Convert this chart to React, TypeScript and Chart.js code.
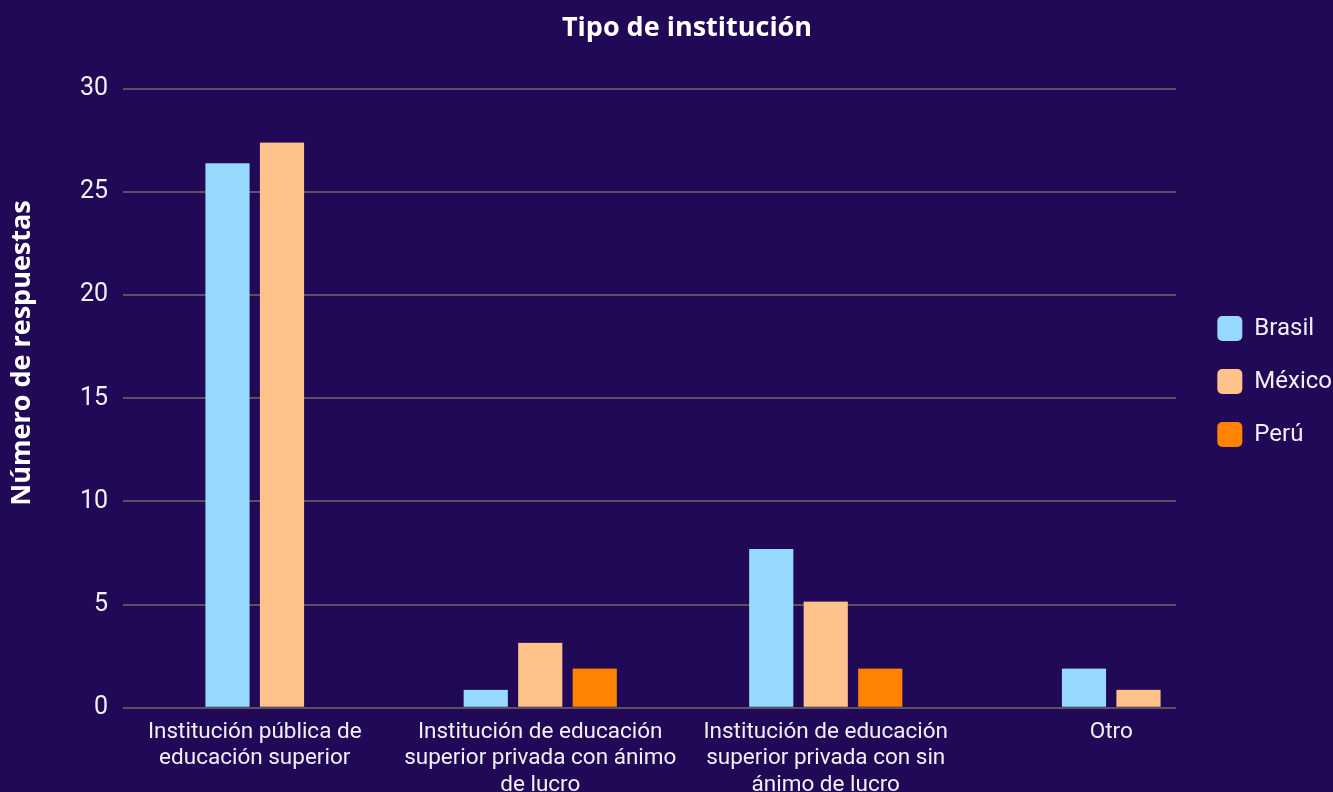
import { useEffect, useRef } from "react";
import { Chart, registerables } from "chart.js";

Chart.register(...registerables);

const chartTitle = "Tipo de institución";
const yAxisTitle = "Número de respuestas";
const categories: (string | string[])[] = [
  ["Institución pública de", "educación superior"],
  ["Institución de educación", "superior privada con ánimo", "de lucro"],
  ["Institución de educación", "superior privada con sin", "ánimo de lucro"],
  "Otro",
];
const seriesNames = ["Brasil", "México", "Perú"];
const brasil = [26.4, 0.87, 7.7, 1.9];
const mexico = [27.4, 3.15, 5.15, 0.87];
const peru = [null, 1.9, 1.9, null];
const seriesColors = ["#98dafe", "#ffc28a", "#ff8300"];
const yMin = 0;
const yMax = 30;
const yStep = 5;

const BG = "#220957";
const TEXT = "#f2f0f7";
const GRID = "#57545f";

const layoutTweak = {
  id: "layoutTweak",
  afterLayout(chart: any) {
    const area = chart.chartArea;
    area.right = 1176;
    area.width = area.right - area.left;
    const x = chart.scales.x;
    x.left = 112;
    x.right = 1254;
    x.width = x.right - x.left;
    x.configure();
    const lg = chart.legend;
    if (lg) {
      lg.top -= 68;
      lg.bottom -= 68;
      lg.left += 9;
      lg.right += 9;
    }
  },
};

const textPlugin = {
  id: "textPlugin",
  afterDraw(chart: any) {
    const ctx = chart.ctx;
    ctx.save();
    ctx.fillStyle = "#ffffff";
    ctx.textAlign = "center";
    ctx.textBaseline = "middle";
    ctx.font = "bold 27px 'Open Sans'";
    ctx.fillText(chartTitle, 687, 28);
    ctx.translate(22, 353);
    ctx.rotate(-Math.PI / 2);
    ctx.font = "bold 27px 'Open Sans'";
    ctx.fillText(yAxisTitle, 0, 0);
    ctx.restore();
  },
};

export default function App() {
  const ref = useRef<HTMLCanvasElement | null>(null);

  useEffect(() => {
    document.body.style.margin = "0";
    document.body.style.overflow = "hidden";
    document.body.style.background = BG;
    if (!ref.current) return;
    const seriesData = [brasil, mexico, peru];
    const chart = new Chart(ref.current, {
      type: "bar",
      data: {
        labels: categories,
        datasets: seriesNames.map((name, i) => ({
          label: name,
          data: seriesData[i],
          backgroundColor: seriesColors[i],
          borderColor: "rgba(0,0,0,0)",
          borderWidth: { top: 0, bottom: 0, left: 5.5, right: 5.5 },
          borderSkipped: false,
          barThickness: 54.5,
          skipNull: true,
        })),
      },
      options: {
        responsive: false,
        animation: false,
        devicePixelRatio: 1,
        layout: { padding: { top: 89, left: 0, right: 0, bottom: 3 } },
        plugins: {
          title: { display: false },
          tooltip: { enabled: false },
          legend: {
            position: "right",
            align: "center",
            labels: {
              color: TEXT,
              font: { family: "Roboto", size: 24 },
              boxWidth: 25,
              boxHeight: 25,
              padding: 28,
              useBorderRadius: true,
              borderRadius: 5,
            },
          },
        },
        scales: {
          x: {
            grid: { display: false, drawTicks: false },
            border: { display: false },
            ticks: {
              color: TEXT,
              font: { family: "Roboto", size: 22.5, lineHeight: 1.16 },
              padding: 12,
              maxRotation: 0,
              autoSkip: false,
            },
          },
          y: {
            min: yMin,
            max: yMax,
            afterFit: (scale: any) => {
              scale.width = 123;
            },
            grid: { color: GRID, lineWidth: 2, drawTicks: false },
            border: { display: false },
            ticks: {
              stepSize: yStep,
              color: TEXT,
              font: { family: "Roboto", size: 25 },
              padding: 15,
            },
            title: { display: false },
          },
        },
      },
      plugins: [layoutTweak, textPlugin],
    });
    return () => chart.destroy();
  }, []);

  return (
    <div style={{ width: 1333, height: 792, overflow: "hidden", background: BG }}>
      <canvas ref={ref} width={1333} height={813} style={{ display: "block" }} />
    </div>
  );
}
